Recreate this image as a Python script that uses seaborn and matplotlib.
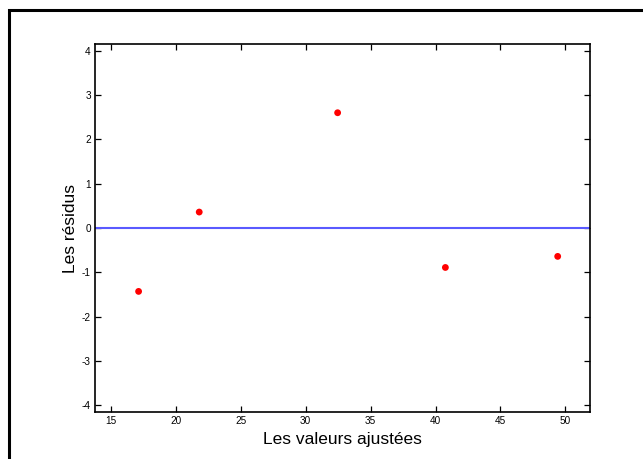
import matplotlib
matplotlib.use("Agg")
import matplotlib.pyplot as plt
from matplotlib.patches import Rectangle
import seaborn as sns
import pandas as pd

# Fitted values and their residuals
valeurs_ajustees = [17.13, 21.80, 32.46, 40.76, 49.41]
residus = [-1.43, 0.36, 2.60, -0.89, -0.64]

x_ticks = [15, 20, 25, 30, 35, 40, 45, 50]
y_ticks = [-4, -3, -2, -1, 0, 1, 2, 3, 4]

df = pd.DataFrame({"ajuste": valeurs_ajustees, "residu": residus})

sns.set_theme(style="ticks")
plt.rcParams["font.family"] = ["Liberation Sans", "DejaVu Sans"]
plt.rcParams["axes.unicode_minus"] = False
plt.rcParams["text.color"] = "black"
plt.rcParams["axes.labelcolor"] = "black"
plt.rcParams["xtick.labelcolor"] = "black"
plt.rcParams["ytick.labelcolor"] = "black"

fig = plt.figure(figsize=(6.43, 4.59), dpi=100)
fig.patch.set_facecolor("white")
ax = fig.add_axes([0.1477, 0.1024, 0.7699, 0.8017])

# zero reference line
ax.axhline(0, color="#5a5aff", lw=1.5, zorder=1)

sns.scatterplot(data=df, x="ajuste", y="residu", ax=ax, color="red",
                s=24, edgecolor="none", zorder=3, legend=False)

ax.set_xlim(13.77, 51.9)
ax.set_ylim(-4.15, 4.15)
ax.set_xticks(x_ticks)
ax.set_yticks(y_ticks)
ax.tick_params(direction="in", length=4, width=0.9, labelsize=7.2,
               top=True, right=True, color="black", labelcolor="black", pad=3)
for sp in ax.spines.values():
    sp.set_visible(True)
    sp.set_linewidth(1.2)
    sp.set_color("black")

ax.set_xlabel("Les valeurs ajustées", fontsize=12.5, labelpad=4, color="black")
ax.set_ylabel("Les résidus", fontsize=12.5, labelpad=3, color="black")

# outer frame around the figure
fig.add_artist(Rectangle((9 / 643, -0.1), 1.2, (459 - 10) / 459 + 0.1,
                         transform=fig.transFigure, fill=False,
                         edgecolor="black", linewidth=2.2))

fig.savefig("out.png", dpi=100, facecolor="white")
